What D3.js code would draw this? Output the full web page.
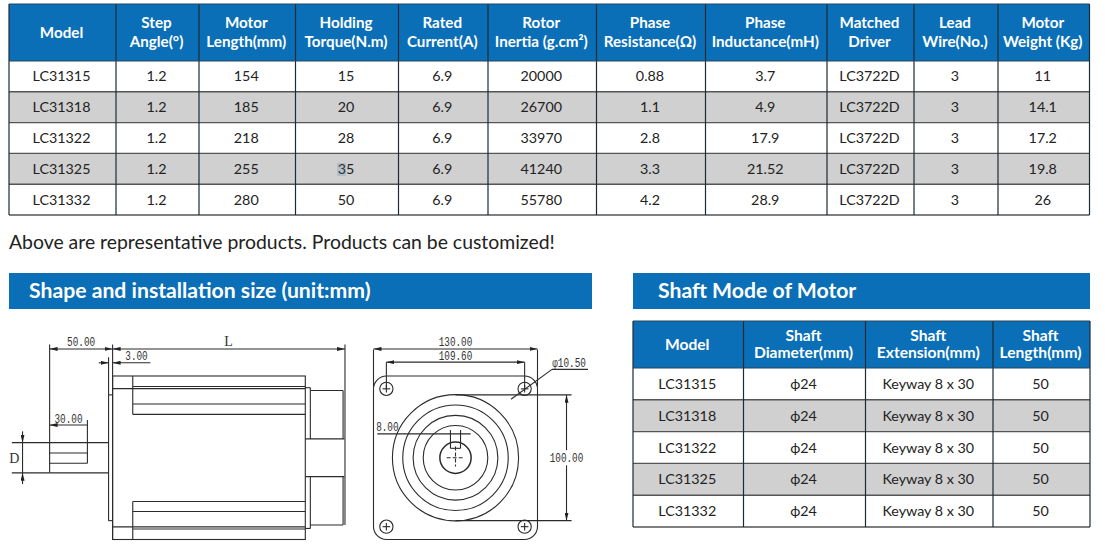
<!DOCTYPE html>
<html>
<head>
<meta charset="utf-8">
<script src="https://cdn.jsdelivr.net/npm/d3@7"></script>
<style>
    html, body { margin: 0; padding: 0; background: #fff; }
    svg { display: block; }
    text { font-family: Lato, "Open Sans", sans-serif; }
    .draw line, .draw path, .draw rect, .draw circle { fill: none; stroke: #2b2b2b; stroke-width: 1.1; }
    .draw text { fill: #333; font-family: "Liberation Mono", monospace; font-size: 12.5px; }
</style>
</head>
<body>
<svg id="sheet" width="1105" height="546"></svg>
<script>
// main spec table
const specColumns = ["Model", "Step\nAngle(°)", "Motor\nLength(mm)", "Holding\nTorque(N.m)", "Rated\nCurrent(A)", "Rotor\nInertia (g.cm²)", "Phase\nResistance(Ω)", "Phase\nInductance(mH)", "Matched\nDriver", "Lead\nWire(No.)", "Motor\nWeight (Kg)"];
const models = ["LC31315", "LC31318", "LC31322", "LC31325", "LC31332"];
const stepAngle = ["1.2", "1.2", "1.2", "1.2", "1.2"];
const motorLength = ["154", "185", "218", "255", "280"];
const holdingTorque = ["15", "20", "28", "35", "50"];
const ratedCurrent = ["6.9", "6.9", "6.9", "6.9", "6.9"];
const rotorInertia = ["20000", "26700", "33970", "41240", "55780"];
const phaseResistance = ["0.88", "1.1", "2.8", "3.3", "4.2"];
const phaseInductance = ["3.7", "4.9", "17.9", "21.52", "28.9"];
const matchedDriver = ["LC3722D", "LC3722D", "LC3722D", "LC3722D", "LC3722D"];
const leadWire = ["3", "3", "3", "3", "3"];
const motorWeight = ["11", "14.1", "17.2", "19.8", "26"];

// shaft table
const shaftColumns = ["Model", "Shaft\nDiameter(mm)", "Shaft\nExtension(mm)", "Shaft\nLength(mm)"];
const shaftDiameter = ["ф24", "ф24", "ф24", "ф24", "ф24"];
const shaftExtension = ["Keyway 8 x 30", "Keyway 8 x 30", "Keyway 8 x 30", "Keyway 8 x 30", "Keyway 8 x 30"];
const shaftLength = ["50", "50", "50", "50", "50"];

const noteText = "Above are representative products. Products can be customized!";
const leftTitle = "Shape and installation size (unit:mm)";
const rightTitle = "Shaft Mode of Motor";

// drawing dimensions, all in mm from the shaft axis / flange face
const bodyLength = 153, bodyHalf = 65, plateHalf = 65, boltHalf = 54.8, boltRadius = 5.25;
const frontRings = [50, 41.8, 33.6, 25.6, 12.4];
const frontCorners = [[-1, -1], [1, -1], [-1, 1], [1, 1]];
const finLevels = [-56.7, -42.7, -34.5, 34.8, 42.7, 56.7];
const sideLines = [
    [0, -55, 153, -55], [0, 55, 153, 55],
    [16, -65, 16, -34.5], [16, 34.8, 16, 65],
    [153, -55.7, 157, -55.7], [153, 56.2, 157, 56.2],
    [157, -55.7, 157, -15], [157, 15, 157, 56.2],
    [157, -53.5, 183, -53.5], [157, 53.5, 183, 53.5],
    [153, -15, 184, -15], [153, 15, 184, 15],
    [183, -53.5, 183, -15], [183, 15, 183, 53.5],
    [-3.2, -50, -3.2, 50], [-3.2, -50, 0, -50], [-3.2, 50, 0, 50],
    [-50, -12, -3, -12], [-50, 12, -3, 12],
    [-50, -3.8, -20, -3.8], [-50, 4.4, -20, 4.4],
    [-50, -90, -50, 12], [-20, -30, -20, 4.4], [0, -90, 0, -65],
    [0, -65, 0, 65], [184.5, -90, 184.5, 53.5], [-3.2, -80, -3.2, -50],
    [-80, -12, -50, -12], [-80, 12, -50, 12]
];

const svg = d3.select("#sheet");
const blue = "#0a6fb7", grey = "#d0d0d0", ink = "#222";

// arrow marker for dimension lines
svg.append("defs").append("marker").attr("id", "arrow")
    .attr("viewBox", "0 0 8 4").attr("refX", 8).attr("refY", 2)
    .attr("markerWidth", 8).attr("markerHeight", 4).attr("markerUnits", "userSpaceOnUse")
    .attr("orient", "auto-start-reverse")
    .append("path").attr("d", "M0,0L8,2L0,4Z").attr("fill", "#222");

function drawTable(cfg) {
    const g = svg.append("g");
    const nCols = cfg.columns.length;
    const rowScale = d3.scaleBand().domain(models).range([cfg.headBottom, cfg.bottom]);

    g.append("rect").attr("x", cfg.edges[0]).attr("y", cfg.top)
        .attr("width", cfg.edges[nCols] - cfg.edges[0]).attr("height", cfg.headBottom - cfg.top)
        .attr("fill", blue);

    g.selectAll(".stripe").data(models).join("rect").attr("class", "stripe")
        .attr("x", cfg.edges[0]).attr("y", d => rowScale(d))
        .attr("width", cfg.edges[nCols] - cfg.edges[0]).attr("height", rowScale.bandwidth())
        .attr("fill", (d, i) => i % 2 ? grey : "#fff");

    // grid
    g.selectAll(".hline").data(models.map(d => rowScale(d) + rowScale.bandwidth()))
        .join("line").attr("x1", cfg.edges[0]).attr("x2", cfg.edges[nCols]).attr("y1", d => d).attr("y2", d => d)
        .attr("stroke", "#555").attr("stroke-width", 1.4);
    g.selectAll(".vline").data(cfg.edges).join("line")
        .attr("x1", d => d).attr("x2", d => d).attr("y1", cfg.top).attr("y2", cfg.bottom)
        .attr("stroke", "#1f2a33").attr("stroke-width", 1.2);
    g.selectAll(".hhead").data([cfg.top, cfg.headBottom]).join("line")
        .attr("x1", cfg.edges[0]).attr("x2", cfg.edges[nCols]).attr("y1", d => d).attr("y2", d => d)
        .attr("stroke", "#27465a").attr("stroke-width", 1.2);

    // header text
    cfg.columns.forEach((name, c) => {
        const cx = (cfg.edges[c] + cfg.edges[c + 1]) / 2;
        const parts = name.split("\n");
        const mid = (cfg.top + cfg.headBottom) / 2;
        parts.forEach((p, i) => {
            g.append("text").attr("x", cx - 1)
                .attr("y", mid + (i - (parts.length - 1) / 2) * cfg.lineGap + 5)
                .attr("text-anchor", "middle").attr("fill", "#fff")
                .style("font-size", cfg.headSize + "px").style("font-weight", 700)
                .text(p);
        });
        cfg.values[c].forEach((v, r) => {
            g.append("text").attr("x", cx - 1).attr("y", rowScale(models[r]) + rowScale.bandwidth() / 2 + 5)
                .attr("text-anchor", "middle").attr("fill", ink)
                .style("font-size", cfg.cellSize + "px")
                .text(v);
        });
    });
}

drawTable({
    columns: specColumns,
    values: [models, stepAngle, motorLength, holdingTorque, ratedCurrent, rotorInertia, phaseResistance, phaseInductance, matchedDriver, leadWire, motorWeight],
    edges: [9, 116, 199, 295.5, 398.5, 488, 596.5, 705.5, 827, 914, 998, 1089.5],
    top: 4, headBottom: 61, bottom: 215, headSize: 15.2, cellSize: 14.3, lineGap: 19
});

// smudge behind the 35 in the scan
svg.append("rect").attr("x", 337).attr("y", 163).attr("width", 9).attr("height", 13)
    .attr("fill", "#4f7fa8").attr("opacity", 0.22);

drawTable({
    columns: shaftColumns,
    values: [models, shaftDiameter, shaftExtension, shaftLength],
    edges: [633, 743.5, 865.5, 993, 1090],
    top: 321, headBottom: 368, bottom: 527, headSize: 15.6, cellSize: 14.3, lineGap: 17
});

svg.append("text").attr("x", 9).attr("y", 249).attr("fill", ink).style("font-size", "19.4px").text(noteText);

// section banners
[[leftTitle, 9, 592, 29], [rightTitle, 633, 1090, 658]].forEach(b => {
    svg.append("rect").attr("x", b[1]).attr("y", 273).attr("width", b[2] - b[1]).attr("height", 36).attr("fill", blue);
    svg.append("text").attr("x", b[3]).attr("y", 298).attr("fill", "#fff")
        .style("font-size", "21.2px").style("font-weight", 700).text(b[0]);
});

// side view
const sideX = d3.scaleLinear().domain([0, bodyLength]).range([112.6, 305.3]);
const axisY = d3.scaleLinear().domain([-65, 65]).range([376, 539.5]);
const side = svg.append("g").attr("class", "draw");

function seg(g, x, y, s) {
    return g.append("line").attr("x1", x(s[0])).attr("y1", y(s[1])).attr("x2", x(s[2])).attr("y2", y(s[3]));
}
function dimLine(g, x, y, s) {
    return seg(g, x, y, s).attr("marker-start", "url(#arrow)").attr("marker-end", "url(#arrow)");
}
function dimText(g, x, y, px, py, t, serif) {
    const el = g.append("text").attr("x", x(px)).attr("y", y(py)).attr("text-anchor", "middle").text(t);
    if (serif) el.style("font-family", "'Liberation Serif', serif").style("font-size", "14px");
    // drawing font is narrow, squeeze the mono glyphs to the same run width
    else el.attr("textLength", t.length * 5.6).attr("lengthAdjust", "spacingAndGlyphs");
    return el;
}

side.append("rect").attr("x", sideX(0)).attr("y", axisY(-bodyHalf))
    .attr("width", sideX(bodyLength) - sideX(0)).attr("height", axisY(bodyHalf) - axisY(-bodyHalf));
finLevels.forEach(v => seg(side, sideX, axisY, [16, v, 153, v]));
sideLines.forEach(s => seg(side, sideX, axisY, s));

dimLine(side, sideX, axisY, [-50, -86.5, 0, -86.5]);
dimLine(side, sideX, axisY, [0, -86.5, 184.5, -86.5]);
dimLine(side, sideX, axisY, [-20, -26, -50, -26]).attr("marker-start", null);
seg(side, sideX, axisY, [-11, -75.5, -3.2, -75.5]).attr("marker-end", "url(#arrow)");
seg(side, sideX, axisY, [30, -75.5, 0, -75.5]).attr("marker-end", "url(#arrow)");
dimLine(side, sideX, axisY, [-71.5, -21, -71.5, -12]).attr("marker-start", null);
dimLine(side, sideX, axisY, [-71.5, 21, -71.5, 12]).attr("marker-start", null);
seg(side, sideX, axisY, [-71.5, -12, -71.5, 12]);

dimText(side, sideX, axisY, -25, -88.5, "50.00");
dimText(side, sideX, axisY, 92, -89, "L", true);
dimText(side, sideX, axisY, 19, -78, "3.00");
dimText(side, sideX, axisY, -35, -28, "30.00");
dimText(side, sideX, axisY, -78, 4, "D", true);

// front view
const frontX = d3.scaleLinear().domain([-65, 65]).range([373.5, 537.5]);
const front = svg.append("g").attr("class", "draw");

front.append("rect").attr("x", frontX(-plateHalf)).attr("y", axisY(-plateHalf))
    .attr("width", frontX(plateHalf) - frontX(-plateHalf)).attr("height", axisY(plateHalf) - axisY(-plateHalf))
    .attr("rx", 13).attr("ry", 13);

front.selectAll(".ring").data(frontRings).join("circle").attr("class", "ring")
    .attr("cx", frontX(0)).attr("cy", axisY(0))
    .attr("r", d => frontX(d) - frontX(0))
    .style("stroke-width", d => d === 12.4 ? 1.5 : 1.1);

frontCorners.forEach(c => {
    const bx = c[0] * boltHalf, by = c[1] * boltHalf;
    front.append("circle").attr("cx", frontX(bx)).attr("cy", axisY(by)).attr("r", frontX(boltRadius) - frontX(0));
    seg(front, frontX, axisY, [bx - 3, by, bx + 3, by]);
    seg(front, frontX, axisY, [bx, by - 3, bx, by + 3]);
});

// keyway and centre mark
[[-4, -12, -4, -7.5], [4, -12, 4, -7.5], [-4, -7.5, 4, -7.5]].forEach(s => seg(front, frontX, axisY, s));
seg(front, frontX, axisY, [-7, 0, 7, 0]).style("stroke-dasharray", "4 2");
seg(front, frontX, axisY, [0, -9, 0, 7]).style("stroke-dasharray", "4 2");

// extension lines
[[-65, -86, -65, -56], [65, -86, 65, -56], [-54.8, -76, -54.8, -54.8], [54.8, -76, 54.8, -54.8],
 [0, -50, 92, -50], [0, 50, 92, 50], [-62, -19, 12, -19], [-4, -22, -4, -12], [4, -22, 4, -12]]
    .forEach(s => seg(front, frontX, axisY, s));

dimLine(front, frontX, axisY, [-65, -86.5, 65, -86.5]);
dimLine(front, frontX, axisY, [-54.8, -76, 54.8, -76]);
dimLine(front, frontX, axisY, [88, -50, 88, -6]).attr("marker-end", null);
dimLine(front, frontX, axisY, [88, 6, 88, 50]).attr("marker-start", null);
seg(front, frontX, axisY, [44, -46.5, 76.5, -70.3]);
seg(front, frontX, axisY, [76.5, -70.3, 105, -70.3]);

dimText(front, frontX, axisY, 0, -88.5, "130.00");
dimText(front, frontX, axisY, 0, -78, "109.60");
dimText(front, frontX, axisY, 90, -72, "φ10.50");
dimText(front, frontX, axisY, 88, 3, "100.00");
dimText(front, frontX, axisY, -54, -21.5, "8.00");
</script>
</body>
</html>
